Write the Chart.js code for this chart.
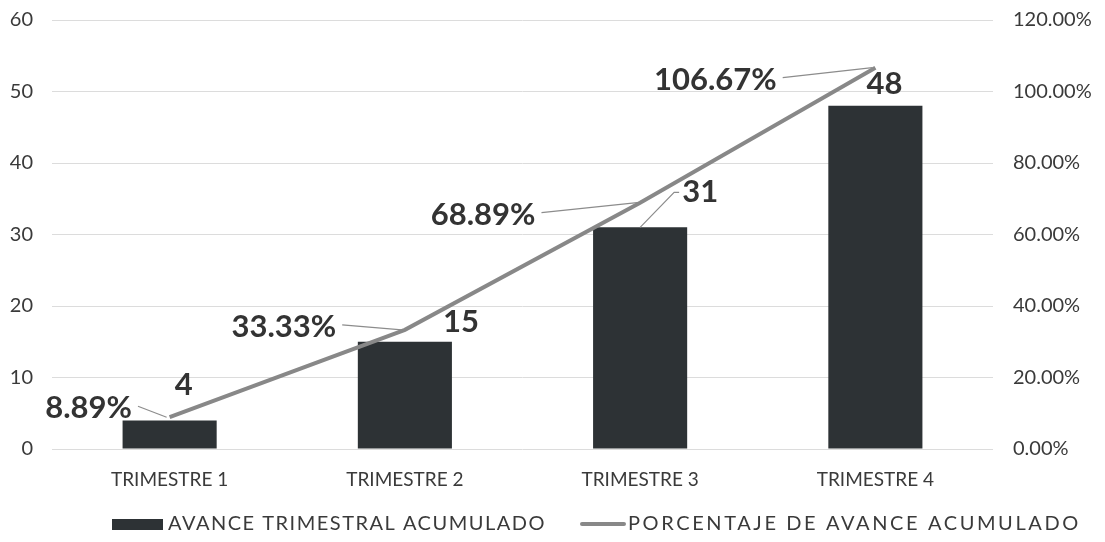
<!DOCTYPE html>
<html><head><meta charset="utf-8">
<script src="https://cdn.jsdelivr.net/npm/chart.js@4/dist/chart.umd.min.js"></script>
<style>html,body{margin:0;padding:0;background:#fff}#wrap{width:1105px;height:542px;position:relative}</style>
</head><body><div id="wrap"><canvas id="c" width="1105" height="542"></canvas></div>
<script>
const categories = ['TRIMESTRE 1','TRIMESTRE 2','TRIMESTRE 3','TRIMESTRE 4'];
const barValues = [4, 15, 31, 48];
const pctValues = [0.0889, 0.3333, 0.6889, 1.0667];
const barLabel = 'AVANCE TRIMESTRAL ACUMULADO';
const lineLabel = 'PORCENTAJE DE AVANCE ACUMULADO';

const FONT = 'Lato, "Open Sans", sans-serif';
const BAR_COLOR = '#2d3235';
const LINE_COLOR = '#888888';
const TXT = '#3a3a3a';

// label offsets (styling) relative to the point/bar top
const barLabelOff = [[14,-35],[56,-20],[60,-35],[9,-22]];
const pctLabelOff = [[-81,-9],[-121,-3],[-157,12],[-160,12]];

const labelsPlugin = {
  id:'labels',
  afterDatasetsDraw(chart){
    const ctx = chart.ctx;
    const bm = chart.getDatasetMeta(0), lm = chart.getDatasetMeta(1);
    ctx.save();
    ctx.font = 'bold 31px ' + FONT;
    ctx.fillStyle = '#333';
    ctx.textBaseline = 'middle';
    ctx.strokeStyle = '#8c8c8c';
    ctx.lineWidth = 1.2;
    lm.data.forEach((p,i)=>{
      const txt = (pctValues[i]*100).toFixed(2)+'%';
      const cx = p.x + pctLabelOff[i][0], cy = p.y + pctLabelOff[i][1];
      ctx.textAlign='center';
      ctx.fillText(txt, cx, cy);
      const w = ctx.measureText(txt).width;
      ctx.beginPath();
      ctx.moveTo(cx + w/2 + 6, cy - 2);
      ctx.lineTo(p.x - 3, p.y);
      ctx.stroke();
    });
    bm.data.forEach((b,i)=>{
      const txt = String(barValues[i]);
      const cx = b.x + barLabelOff[i][0], cy = b.y + barLabelOff[i][1];
      ctx.textAlign='center';
      ctx.fillText(txt, cx, cy);
      if (i===2){
        const w = ctx.measureText(txt).width;
        ctx.beginPath();
        ctx.moveTo(b.x, b.y);
        ctx.lineTo(cx - w/2 - 8, cy);
        ctx.lineTo(cx - w/2 - 3, cy);
        ctx.stroke();
      }
    });
    ctx.restore();
  },
  afterDraw(chart){
    const ctx = chart.ctx;
    ctx.save();
    ctx.font = '20px ' + FONT;
    ctx.textBaseline='middle';
    ctx.textAlign='left';
    const y = 524;
    ctx.fillStyle = BAR_COLOR;
    ctx.fillRect(112, 519, 51, 11);
    ctx.fillStyle = TXT;
    try{ctx.letterSpacing='1.5px';}catch(e){}
    ctx.fillText(barLabel, 168, y);
    ctx.strokeStyle = LINE_COLOR; ctx.lineWidth=4; ctx.lineCap='round';
    ctx.beginPath(); ctx.moveTo(582,y); ctx.lineTo(624,y); ctx.stroke();
    try{ctx.letterSpacing='2.6px';}catch(e){}
    ctx.fillText(lineLabel, 628, y);
    ctx.restore();
  }
};

function fitY(w){ return function(s){ s.width = w; s.paddingTop = 0; s.paddingBottom = 0; }; }

new Chart(document.getElementById('c'), {
  data:{
    labels: categories,
    datasets:[
      {type:'bar', label:barLabel, data:barValues, backgroundColor:BAR_COLOR, yAxisID:'y', order:1, barPercentage:0.4, categoryPercentage:1},
      {type:'line', label:lineLabel, data:pctValues, borderColor:LINE_COLOR, borderWidth:4, pointRadius:0, yAxisID:'y1', order:0, tension:0}
    ]
  },
  options:{
    responsive:false, animation:false, devicePixelRatio:1,
    layout:{padding:{top:20,left:0,right:0,bottom:0}},
    plugins:{legend:{display:false}, tooltip:{enabled:false}},
    scales:{
      x:{grid:{display:false, drawTicks:false}, border:{display:false},
         ticks:{padding:19, color:TXT, font:{family:FONT,size:19}},
         afterFit(s){s.height=93; s.paddingLeft=0; s.paddingRight=0;}},
      y:{position:'left', min:0, max:60, ticks:{stepSize:10, padding:19, color:TXT, font:{family:FONT,size:20}},
         grid:{color:'#dcdcdc', drawTicks:false}, border:{display:false},
         afterFit: fitY(52)},
      y1:{position:'right', min:0, max:1.2, ticks:{stepSize:0.2, padding:20, color:TXT, font:{family:FONT,size:20},
           callback:v=>(v*100).toFixed(2)+'%'},
         grid:{display:false, drawTicks:false}, border:{display:false},
         afterFit: fitY(112)}
    }
  },
  plugins:[labelsPlugin]
});
</script></body></html>
